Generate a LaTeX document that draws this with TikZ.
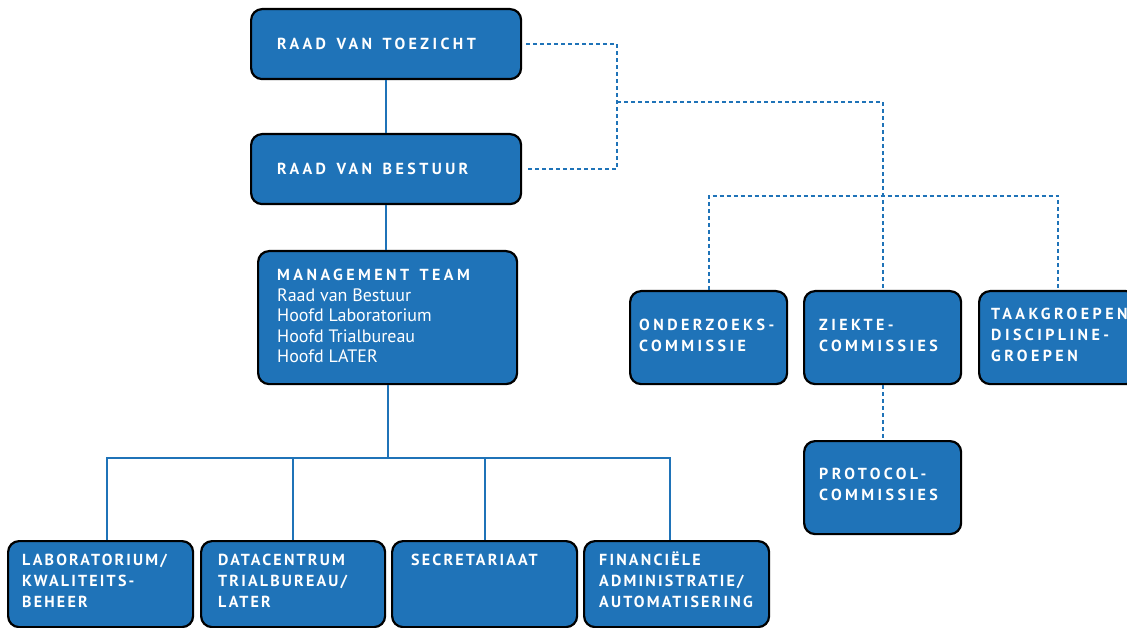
\documentclass[tikz,border=0pt]{standalone}
\usepackage{fontspec}
\setmainfont{PT Sans}
\newfontfamily\capswide{PT Sans}[LetterSpace=21.5,WordSpace=1.4]
\newfontfamily\capsnarrow{PT Sans}[LetterSpace=13.7]
\definecolor{orgblue}{RGB}{31,115,184}

\tikzset{
  box/.style={draw=black, line width=2.2pt, fill=orgblue, rounded corners=11pt,
    anchor=north west, inner sep=0pt},
  capsw/.style={text=white, anchor=north west, inner sep=0pt, align=left,
    font=\capswide\bfseries\fontsize{16}{21}\selectfont},
  capsn/.style={text=white, anchor=north west, inner sep=0pt, align=left,
    font=\capsnarrow\bfseries\fontsize{16}{21}\selectfont},
  tree/.style={orgblue, line width=2pt},
  dashline/.style={orgblue, line width=2pt, dash pattern=on 4pt off 3pt},
}

\begin{document}
\begin{tikzpicture}[x=1pt,y=-1pt]
\useasboundingbox (0,0) rectangle (1127,628);
\clip (0,0) rectangle (1127,628);

% top
\node[box, minimum width=270, minimum height=70] (rvt) at (250,8) {};
\node[capsw] (rvt-t) at (277,38) {RAAD VAN TOEZICHT};
\node[box, minimum width=270, minimum height=70] (rvb) at (250,133) {};
\node[capsw] (rvb-t) at (277,163) {RAAD VAN BESTUUR};

% management team
\node[box, minimum width=259, minimum height=133] (mt) at (257,250) {};
\node[text=white, anchor=north west, inner sep=0pt, align=left,
  font=\fontsize{18}{20.5}\selectfont] (mt-t) at (277,269)
  {{\capswide\bfseries\fontsize{16}{20}\selectfont MANAGEMENT TEAM}\\
   Raad van Bestuur\\ Hoofd Laboratorium\\ Hoofd Trialbureau\\ Hoofd LATER};

% bottom row
\node[box, minimum width=185, minimum height=86] (lab) at (7,540) {};
\node[capsn] (lab-t) at (22,554) {LABORATORIUM/\\ KWALITEITS-\\ BEHEER};
\node[box, minimum width=184, minimum height=86] (dat) at (200,540) {};
\node[capsn] (dat-t) at (218,554) {DATACENTRUM\\ TRIALBUREAU/\\ LATER};
\node[box, minimum width=185, minimum height=86] (sec) at (391,540) {};
\node[capsn] (sec-t) at (411,554) {SECRETARIAAT};
\node[box, minimum width=185, minimum height=86] (fin) at (583,540) {};
\node[capsn] (fin-t) at (599,552) {FINANCIËLE\\ ADMINISTRATIE/\\ AUTOMATISERING};

% commissies
\node[box, minimum width=157, minimum height=93] (ok) at (629,290) {};
\node[capsw] (ok-t) at (639,319) {ONDERZOEKS-\\ COMMISSIE};
\node[box, minimum width=157, minimum height=93] (zc) at (803,290) {};
\node[capsw] (zc-t) at (819,319) {ZIEKTE-\\ COMMISSIES};
\node[box, minimum width=158, minimum height=93] (tg) at (978,290) {};
\node[capsw] (tg-t) at (991,308) {TAAKGROEPEN\\ DISCIPLINE-\\ GROEPEN};
\node[box, minimum width=157, minimum height=93] (pc) at (803,440) {};
\node[capsw] (pc-t) at (819,468) {PROTOCOL-\\ COMMISSIES};

% solid lines
\draw[tree] (rvt.south) -- (rvt.south |- rvb.north);
\draw[tree] (rvb.south) -- (rvb.south |- mt.north);
\coordinate (hub) at (mt.south |- 0,458);
\draw[tree] (mt.south) -- (hub);
\draw[tree] ([xshift=6]lab.north) |- (hub) -| ([xshift=-7]fin.north);
\draw[tree] (dat.north) -- (dat.north |- hub);
\draw[tree] (sec.north) -- (sec.north |- hub);

% dashed lines
\coordinate (bend) at (617,102);
\coordinate (fork) at (882,196);
\draw[dashline] ([xshift=4]rvt.east) -| (bend) |- ([xshift=4]rvb.east);
\draw[dashline] (bend) -| (zc.north);
\draw[dashline] (ok.north) |- (fork) -| (tg.north);
\draw[dashline] (zc.south) -- (pc.north);
\end{tikzpicture}
\end{document}
